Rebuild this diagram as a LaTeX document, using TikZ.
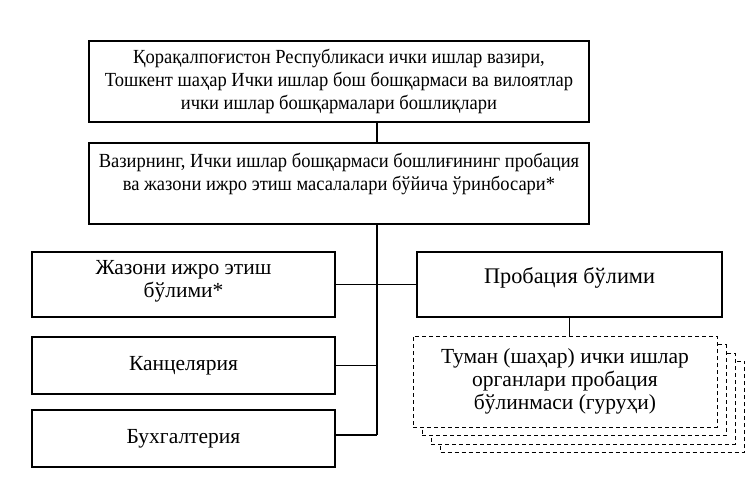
\documentclass[tikz,border=0pt]{standalone}
\usepackage{fontspec}
\setmainfont{Liberation Serif}
\newfontfamily\topfont{Liberation Serif}[FakeStretch=0.925]
\begin{document}
\begin{tikzpicture}[x=1pt,y=-1pt,
  bigfont/.style={font=\topfont\fontsize{20}{23}\selectfont},
  lowfont/.style={font=\fontsize{21.5}{23}\selectfont},
  box/.style={draw, line width=1.1pt, fill=white, inner sep=0pt, align=center, lowfont},
  lbl/.style={inner sep=0pt, align=center},
  dbox/.style={draw, line width=1pt, dash pattern=on 4pt off 3pt, fill=white,
    inner sep=0pt, minimum width=304pt, minimum height=91pt, align=center, lowfont},
  conn/.style={line width=1.1pt}]
\useasboundingbox (0,0) rectangle (756,485);
% top boxes
\node[box, bigfont, minimum width=500pt, minimum height=81pt] (b1) at (339,81.5)
  {Қорақалпоғистон Республикаси ички ишлар вазири,\\
   Тошкент шаҳар Ички ишлар бош бошқармаси ва вилоятлар\\
   ички ишлар бошқармалари бошлиқлари};
\node[box, minimum width=500pt, minimum height=81pt] (b2) at (339,183.5) {};
\node[lbl, bigfont] (b2t) at (339,174)
  {Вазирнинг, Ички ишлар бошқармаси бошлиғининг пробация\\
   ва жазони ижро этиш масалалари бўйича ўринбосари*};
% left boxes
\node[box, minimum width=303pt, minimum height=65pt] (zh) at (183.5,284.5) {};
\node[lbl, lowfont] (zht) at (183.5,281.5) {Жазони ижро этиш\\ бўлими*};
\node[box, minimum width=303pt, minimum height=57pt] (kan) at (183.5,365.5)
  {Канцелярия};
\node[box, minimum width=303pt, minimum height=57pt] (bux) at (183.5,438.5)
  {Бухгалтерия};
% right boxes
\node[box, minimum width=305pt, minimum height=65pt] (prob) at (569.5,284.5) {};
\node[lbl, font=\fontsize{22.3}{23}\selectfont] (probt) at (569.5,277.5) {Пробация бўлими};
\node[dbox] (d4) at (592.5,406.5) {};
\node[dbox] (d3) at (583,398.5) {};
\node[dbox] (d2) at (574,390) {};
\node[dbox] (d1) at (565,381.5)
  {Туман (шаҳар) ички ишлар\\ органлари пробация\\ бўлинмаси (гуруҳи)};
% connectors
\coordinate (spine) at (377,435);
\draw[conn] (b1.south -| spine) -- (b2.north -| spine);
\draw[conn] (b2.south -| spine) -- (spine);
\draw[conn] (zh.east) -- (prob.west);
\draw[conn] (kan.east) -- (kan.east -| spine);
\draw[conn] ([yshift=3.5pt]bux.east) -- (spine);
\draw[conn] (prob.south) -- (prob.south |- d1.north);
\end{tikzpicture}
\end{document}
